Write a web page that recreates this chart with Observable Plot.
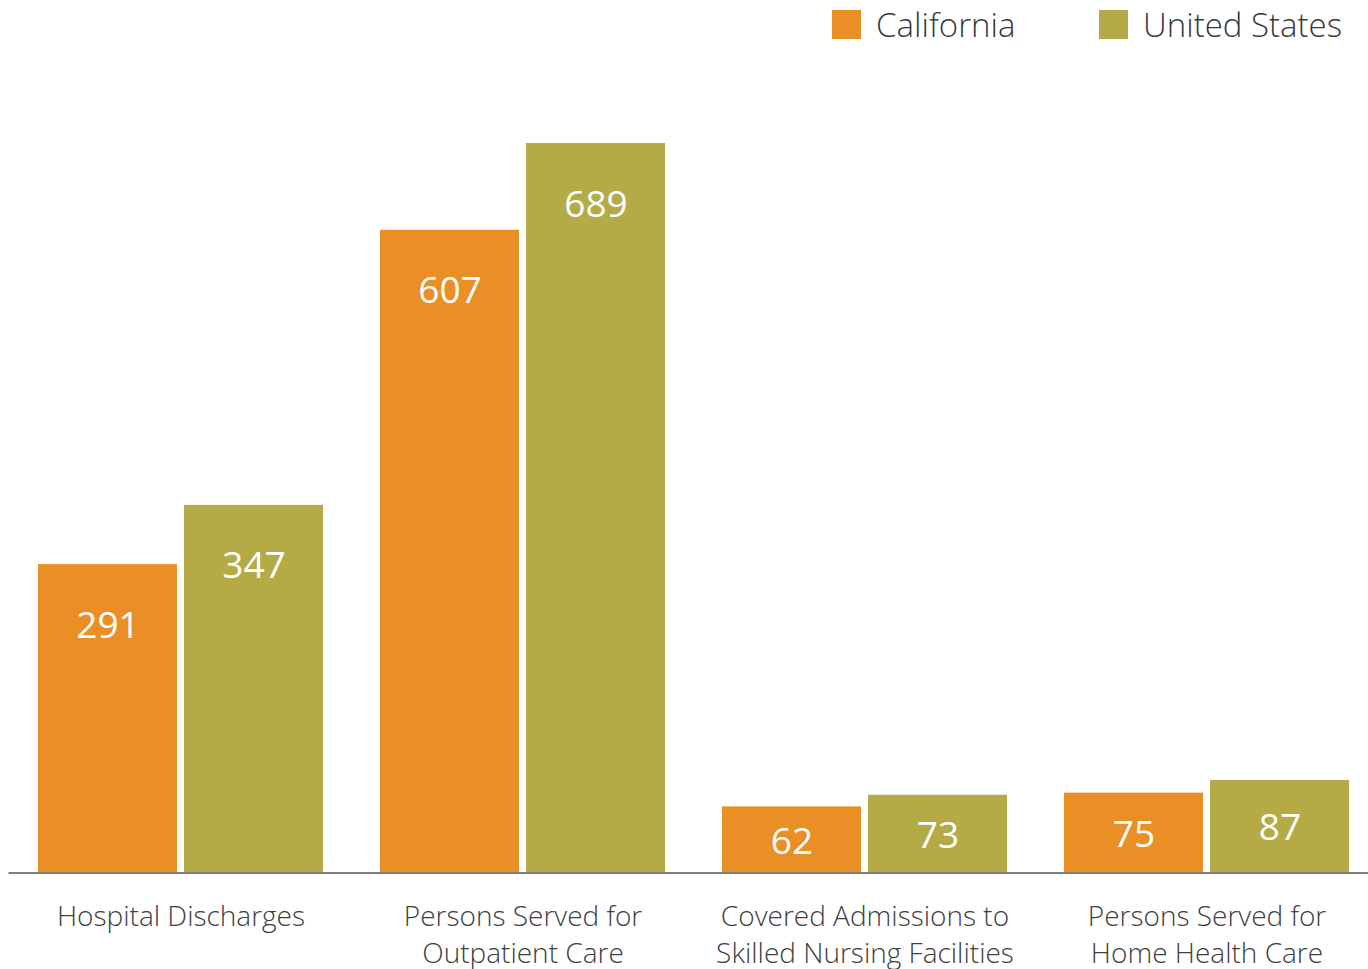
<!DOCTYPE html>
<html>
<head>
<meta charset="utf-8">
<script src="https://cdn.jsdelivr.net/npm/d3@7"></script>
<script src="https://cdn.jsdelivr.net/npm/@observablehq/plot@0.6"></script>
<style>
  html, body { margin: 0; padding: 0; background: #fff; }
  body { width: 1368px; height: 969px; overflow: hidden; font-family: "Open Sans", "Noto Sans", sans-serif; }
  #legend { position: relative; height: 48px; }
  .item { position: absolute; top: 0; height: 48px; display: flex; align-items: center; font-size: 33px; font-weight: 300; color: #3a3a3a; }
  .sw { width: 29px; height: 29px; margin-right: 15px; }
  #chart svg { display: block; }
</style>
</head>
<body>
<div id="legend"></div>
<div id="chart"></div>
<script>
const categories = [
  "Hospital Discharges",
  "Persons Served for\nOutpatient Care",
  "Covered Admissions to\nSkilled Nursing Facilities",
  "Persons Served for\nHome Health Care"
];
const series = ["California", "United States"];
const california = [291, 607, 62, 75];
const unitedStates = [347, 689, 73, 87];
const colors = ["#EA8F25", "#B4AB47"];

const data = categories.flatMap((c, i) => [
  {category: c, series: series[0], value: california[i]},
  {category: c, series: series[1], value: unitedStates[i]}
]);

// legend
const legend = document.getElementById("legend");
const legendLeft = [832, 1099];
series.forEach((s, i) => {
  const it = document.createElement("div");
  it.className = "item";
  it.style.left = legendLeft[i] + "px";
  it.innerHTML = `<div class="sw" style="background:${colors[i]}"></div><span>${s}</span>`;
  legend.appendChild(it);
});

const chart = Plot.plot({
  width: 1368,
  height: 921,
  marginTop: 83.4,
  marginBottom: 97,
  marginLeft: 38,
  marginRight: 19,
  style: {fontFamily: "'Open Sans', 'Noto Sans', sans-serif", fontSize: "28px", background: "#fff"},
  fx: {domain: categories, paddingInner: 57 / 342, paddingOuter: 0, label: null},
  x: {domain: series, paddingInner: 7 / 146, paddingOuter: 0, axis: null},
  y: {domain: [0, 700], axis: null},
  color: {domain: series, range: colors},
  marks: [
    Plot.ruleY([0], {stroke: "#808080", strokeWidth: 2, dy: 0.5, insetLeft: -29.5, insetRight: -29.5}),
    Plot.barY(data, {fx: "category", x: "series", y: "value", fill: "series"}),
    Plot.text(data, {
      fx: "category", x: "series",
      y: d => Math.max(d.value - 56, d.value / 2),
      text: d => String(d.value),
      fill: "white", fontSize: 37, dy: 2
    }),
    Plot.axisFx({
      anchor: "bottom", tickSize: 0, tickPadding: 28, label: null,
      fontSize: 28, fontWeight: 300, lineHeight: 1.3, fill: "#404040",
      tickFormat: d => d
    })
  ]
});
document.getElementById("chart").appendChild(chart);
</script>
</body>
</html>
